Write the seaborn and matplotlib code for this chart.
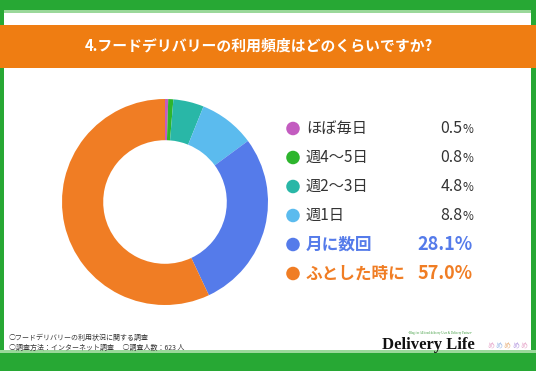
import numpy as np
import pandas as pd
import seaborn as sns
import matplotlib.pyplot as plt
from matplotlib.patches import Rectangle

# data
labels = ["ほぼ毎日", "週4〜5日", "週2〜3日", "週1日", "月に数回", "ふとした時に"]
values = [0.5, 0.8, 4.8, 8.8, 28.1, 57.0]
colors = ["#c35cc0", "#2db52d", "#29b7a7", "#5bbbee", "#557bea", "#f07d24"]
bold_rows = [False, False, False, False, True, True]

title = "4.フードデリバリーの利用頻度はどのくらいですか?"
notes = ["○フードデリバリーの利用状況に関する調査",
         "○調査方法：インターネット調査　 ○調査人数：623 人"]

sns.set_theme(style="white")
plt.rcParams['font.family'] = ['Noto Sans CJK JP', 'DejaVu Sans']

W, H = 536, 371
fig = plt.figure(figsize=(W / 100, H / 100), dpi=100)

# background frame in pixel coords
bg = fig.add_axes([0, 0, 1, 1])
bg.set_xlim(0, W)
bg.set_ylim(H, 0)
bg.axis('off')
green = "#27a834"
light = "#9ad89a"
bg.add_patch(Rectangle((0, 0), W, 10, color=green, lw=0))
bg.add_patch(Rectangle((0, 10), W, 3, color=light, lw=0))
bg.add_patch(Rectangle((0, 0), 4, H, color=green, lw=0))
bg.add_patch(Rectangle((531, 0), 5, H, color=green, lw=0))
bg.add_patch(Rectangle((0, 350), W, 3, color=light, lw=0))
bg.add_patch(Rectangle((0, 353), W, 18, color=green, lw=0))
bg.add_patch(Rectangle((0, 25), W, 43, color="#ef7d12", lw=0))
bg.text(259, 46, title, color="white", fontsize=10.7, fontweight="bold",
        ha="center", va="center")

for i, n in enumerate(notes):
    bg.text(9, 338 + i * 10, n, fontsize=5.0, color="#333333", va="center")

bg.text(440, 333, "-Blog for All food delivery User & Delivery Partner-",
        fontsize=2.2, color="#3a9a3a", ha="center", va="center",
        family="Liberation Serif")
bg.text(382, 345, "Delivery Life", fontsize=12, fontweight="bold",
        family="Liberation Serif", color="#111111", va="center")
logo_cols = ["#e6a3c8", "#9ab8e8", "#e8b07a", "#b59ae0", "#e6a3c8"]
for k, c in enumerate(logo_cols):
    bg.text(487 + k * 8.3, 347, "め", fontsize=5, color=c, va="center")

# donut
cx, cy, r = 165, 202, 103
ax = fig.add_axes([(cx - r) / W, (H - cy - r) / H, 2 * r / W, 2 * r / H])
ax.pie(values, colors=colors, startangle=90, counterclock=False,
       wedgeprops=dict(width=0.4, edgecolor="none"))
ax.set_xlim(-1, 1)
ax.set_ylim(-1, 1)
ax.set_aspect('equal')

# legend table
df = pd.DataFrame({"label": labels, "value": values, "row": np.arange(len(labels))})
top, bot = 114, 288
lg = fig.add_axes([280 / W, (H - bot) / H, 200 / W, (bot - top) / H])
df["x"] = 293
sns.scatterplot(data=df, x="x", y="row", hue="label", palette=colors,
                s=95, edgecolor="none", legend=False, ax=lg)
lg.set_xlim(280, 480)
lg.set_ylim(len(labels) - 0.5, -0.5)
lg.axis('off')
for i, row in df.iterrows():
    if bold_rows[i]:
        lg.text(306, row["row"], row["label"], fontsize=12, fontweight="bold",
                color=colors[i], va="center")
        lg.text(473, row["row"], f"{row['value']:.1f}%", fontsize=13,
                fontweight="bold", color=colors[i], va="center", ha="right")
    else:
        lg.text(306, row["row"], row["label"], fontsize=11, color="#333333",
                va="center")
        lg.text(473, row["row"] + 0.05, "%", fontsize=8.5, color="#333333",
                va="center", ha="right")
        lg.text(462.5, row["row"], f"{row['value']:.1f}", fontsize=11.5,
                color="#333333", va="center", ha="right")

fig.savefig("out.png", dpi=100)
